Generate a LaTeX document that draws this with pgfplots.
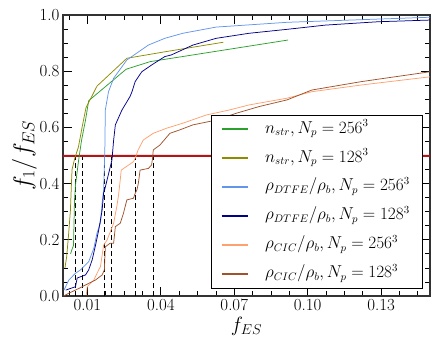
\documentclass[border=0pt]{standalone}
\usepackage{pgfplots}
\pgfplotsset{compat=1.18}
\definecolor{cgreen}{RGB}{44,160,44}
\definecolor{colive}{RGB}{140,140,0}
\definecolor{clblue}{RGB}{100,149,237}
\definecolor{cdblue}{RGB}{0,0,139}
\definecolor{corange}{RGB}{255,160,110}
\definecolor{cbrown}{RGB}{160,82,45}
\definecolor{cdred}{RGB}{180,20,20}
\begin{document}
\begin{tikzpicture}
\useasboundingbox (-63bp,-58bp) rectangle (373bp,296bp);
\begin{axis}[
  scale only axis, width=367bp, height=281bp,
  at={(0,0)}, anchor=south west,
  xmin=0, xmax=0.15, ymin=0, ymax=1,
  xtick={0.01,0.04,0.07,0.10,0.13},
  xticklabels={0.01,0.04,0.07,0.10,0.13},
  minor xtick={0.0025,0.0175,0.025,0.0325,0.0475,0.055,0.0625,0.0775,0.085,0.0925,0.1075,0.115,0.1225,0.1375,0.145},
  ytick={0,0.2,0.4,0.6,0.8,1.0},
  yticklabels={0.0,0.2,0.4,0.6,0.8,1.0},
  minor ytick={0.05,0.1,0.15,0.25,0.3,0.35,0.45,0.55,0.65,0.7,0.75,0.85,0.9,0.95},
  tick align=inside, xtick pos=both, ytick pos=both,
  major tick length=9bp, minor tick length=5bp,
  major tick style={black, line width=0.8pt},
  minor tick style={black, line width=0.8pt},
  axis line style={line width=1.1pt, black!80},
  ticklabel style={font=\fontsize{17}{20}\selectfont},
  xlabel={$f_{ES}$}, ylabel={$f_1/f_{ES}$},
  xlabel style={font=\fontsize{22}{26}\selectfont, yshift=1bp},
  ylabel style={font=\fontsize{27}{30}\selectfont, yshift=-4bp},
  legend style={at={(0.978,0.028)}, anchor=south east, draw=black,
    fill=white, font=\fontsize{16}{19}\selectfont, cells={anchor=west},
    row sep=9bp, inner xsep=10bp, inner ysep=4bp,
    nodes={text height=12bp, text depth=4bp}},
  /tikz/every odd column/.append style={column sep=15bp},
  legend image code/.code={\draw[#1, line width=1.3pt] (0bp,0bp) -- (26bp,0bp);},
]
\addplot[black, dash pattern=on 5bp off 3bp, forget plot, line width=0.8pt] coordinates {(0.00515,0) (0.00515,0.5)};
\addplot[black, dash pattern=on 5bp off 3bp, forget plot, line width=0.8pt] coordinates {(0.00786,0) (0.00786,0.5)};
\addplot[black, dash pattern=on 5bp off 3bp, forget plot, line width=0.8pt] coordinates {(0.0170,0) (0.0170,0.5)};
\addplot[black, dash pattern=on 5bp off 3bp, forget plot, line width=0.8pt] coordinates {(0.0199,0) (0.0199,0.5)};
\addplot[black, dash pattern=on 5bp off 3bp, forget plot, line width=0.8pt] coordinates {(0.0295,0) (0.0295,0.5)};
\addplot[black, dash pattern=on 5bp off 3bp, forget plot, line width=0.8pt] coordinates {(0.0369,0) (0.0369,0.5)};

% threshold line at 0.5, as a thin band
\addplot[fill=cdred, draw=cdred, line width=0.5pt, forget plot] coordinates {
(0,0.4975) (0.15,0.4975) (0.15,0.5025) (0,0.5025) (0,0.4975)};

% n_str 256
\addplot[cgreen, line width=0.75pt] coordinates {
(0.0031,0.150) (0.0036,0.164) (0.0043,0.18) (0.0047,0.34) (0.0051,0.395) (0.0064,0.484)
(0.0076,0.555) (0.0092,0.626) (0.0105,0.695) (0.0258,0.807) (0.0356,0.834) (0.0920,0.911)};
\addlegendentry{$n_{str}, N_p=256^3$}
% n_str 128
\addplot[colive, line width=0.75pt] coordinates {
(0.0008,0.10) (0.0015,0.14) (0.0022,0.21) (0.003,0.30) (0.0035,0.41) (0.0037,0.45)
(0.0048,0.49) (0.0063,0.53) (0.0078,0.60) (0.0094,0.67) (0.0139,0.747) (0.0261,0.846)
(0.0416,0.869) (0.0655,0.903)};
\addlegendentry{$n_{str}, N_p=128^3$}
% DTFE 256
\addplot[clblue, line width=0.75pt] coordinates {
(0.0004,0.021) (0.0024,0.057) (0.0051,0.081) (0.0072,0.093) (0.0105,0.122) (0.0126,0.17)
(0.0139,0.224) (0.0153,0.26) (0.016,0.331) (0.0166,0.377) (0.0171,0.52) (0.0173,0.662)
(0.0186,0.727) (0.0207,0.775) (0.0261,0.84) (0.0349,0.893) (0.0416,0.917) (0.049,0.935)
(0.0626,0.957) (0.0916,0.974) (0.15,0.992)};
\addlegendentry{$\rho_{DTFE}/\rho_b, N_p=256^3$}
% DTFE 128
\addplot[cdblue, line width=0.75pt] coordinates {
(0.0011,0.021) (0.0051,0.033) (0.0058,0.064) (0.0092,0.075) (0.0105,0.093) (0.0119,0.128)
(0.0133,0.181) (0.0146,0.235) (0.016,0.306) (0.0166,0.367) (0.017,0.377) (0.0200,0.484)
(0.0207,0.555) (0.0214,0.609) (0.0241,0.662) (0.0274,0.71) (0.0282,0.727) (0.0295,0.763)
(0.0322,0.798) (0.0362,0.822) (0.0416,0.852) (0.0443,0.858) (0.0531,0.893) (0.0626,0.917)
(0.0761,0.935) (0.0916,0.949) (0.1072,0.964) (0.1288,0.976) (0.15,0.982)};
\addlegendentry{$\rho_{DTFE}/\rho_b, N_p=128^3$}
% CIC 256
\addplot[corange, line width=0.75pt] coordinates {
(0.0095,0.003) (0.0099,0.033) (0.0126,0.057) (0.0146,0.093) (0.0153,0.104) (0.0166,0.181)
(0.018,0.199) (0.0207,0.259) (0.0221,0.324) (0.0227,0.359) (0.0234,0.413) (0.0238,0.448)
(0.0288,0.478) (0.0295,0.49) (0.0307,0.52) (0.0328,0.555) (0.0369,0.579) (0.0423,0.597)
(0.049,0.615) (0.0585,0.644) (0.068,0.662) (0.0761,0.68) (0.0916,0.704) (0.1017,0.727)
(0.122,0.751) (0.15,0.78)};
\addlegendentry{$\rho_{CIC}/\rho_b, N_p=256^3$}
% CIC 128
\addplot[cbrown, line width=0.75pt] coordinates {
(0.0003,0.0) (0.0024,0.01) (0.0065,0.027) (0.0105,0.045) (0.0133,0.057) (0.016,0.075)
(0.0169,0.093) (0.0173,0.175) (0.0193,0.188) (0.0207,0.188) (0.0214,0.247) (0.0234,0.259)
(0.0247,0.294) (0.0261,0.342) (0.0288,0.348) (0.0295,0.365) (0.0302,0.377) (0.0308,0.401)
(0.0315,0.448) (0.0349,0.454) (0.0362,0.466) (0.0366,0.49) (0.0369,0.52) (0.0396,0.537)
(0.0437,0.579) (0.0477,0.591) (0.0531,0.609) (0.0626,0.626) (0.0707,0.65) (0.0801,0.674)
(0.0916,0.698) (0.1017,0.733) (0.122,0.763) (0.15,0.798)};
\addlegendentry{$\rho_{CIC}/\rho_b, N_p=128^3$}
\end{axis}
\end{tikzpicture}
\end{document}
